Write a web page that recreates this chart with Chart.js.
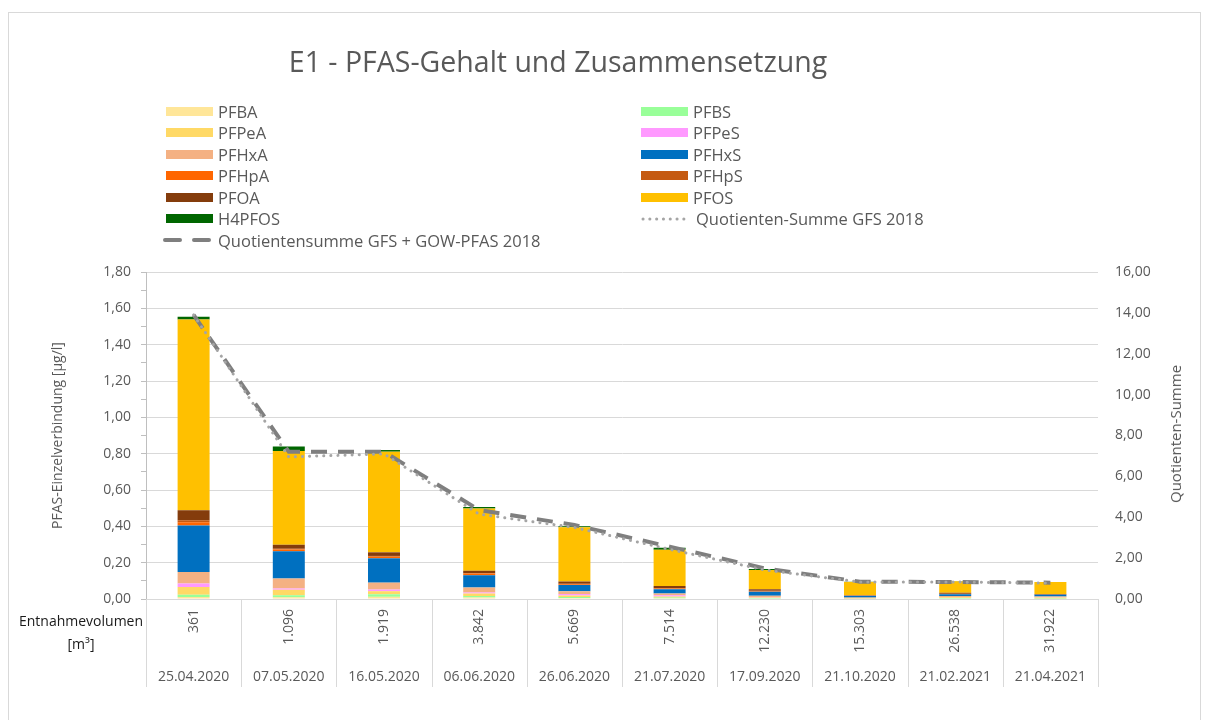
<!DOCTYPE html>
<html>
<head>
<meta charset="utf-8">
<script src="https://cdn.jsdelivr.net/npm/chart.js@4"></script>
<style>
  body { margin: 0; background: #fff; font-family: 'Open Sans', sans-serif; }
  #wrap { position: relative; width: 1212px; height: 720px; overflow: hidden; }
  #frame { position: absolute; left: 8px; top: 12px; width: 1191px; height: 720px; border: 1px solid #d9d9d9; }
  #title { position: absolute; left: 558px; top: 42px; transform: translateX(-50%); font-size: 28.5px; color: #595959; white-space: nowrap; }
  #legend { position: absolute; left: 0; top: 0; }
  .item { position: absolute; height: 20px; display: flex; align-items: center; font-size: 16.5px; color: #595959; white-space: nowrap; }
  .item .sw { width: 47px; height: 9px; margin-right: 5px; }
  .item svg { margin-right: 3px; }
  #rtitle { position: absolute; left: 1175px; top: 434px; transform: translate(-50%, -50%) rotate(-90deg); font-size: 15px; color: #595959; white-space: nowrap; }
  #vol { position: absolute; left: 81px; top: 609px; transform: translateX(-50%); font-size: 14px; line-height: 23px; color: #1a1a1a; text-align: center; white-space: nowrap; }
  canvas { position: absolute; left: 0; top: 0; }
</style>
</head>
<body>
<div id="wrap">
  <div id="frame"></div>
  <canvas id="chart" width="1212" height="720"></canvas>
  <div id="title">E1 - PFAS-Gehalt und Zusammensetzung</div>
  <div id="legend"></div>
  <div id="rtitle">Quotienten-Summe</div>
  <div id="vol">Entnahmevolumen<br>[m³]</div>
</div>
<script>
// categories (two-level x axis)
const volumes = ['361', '1.096', '1.919', '3.842', '5.669', '7.514', '12.230', '15.303', '26.538', '31.922'];
const dates = ['25.04.2020', '07.05.2020', '16.05.2020', '06.06.2020', '26.06.2020', '21.07.2020', '17.09.2020', '21.10.2020', '21.02.2021', '21.04.2021'];

// single compounds [µg/l], stacked bottom to top
const pfba   = [0.011, 0.010, 0.012, 0.008, 0.005, 0.004, 0.003, 0.001, 0.003, 0.002];
const pfbs   = [0.013, 0.011, 0.014, 0.009, 0.006, 0.004, 0.002, 0.001, 0.002, 0.002];
const pfpea  = [0.042, 0.030, 0.017, 0.013, 0.008, 0.006, 0.003, 0.002, 0.004, 0.004];
const pfpes  = [0.020, 0.007, 0.009, 0.006, 0.008, 0.006, 0.003, 0.001, 0.002, 0.002];
const pfhxa  = [0.062, 0.055, 0.038, 0.027, 0.015, 0.010, 0.007, 0.003, 0.005, 0.004];
const pfhxs  = [0.257, 0.150, 0.134, 0.068, 0.035, 0.024, 0.022, 0.009, 0.010, 0.009];
const pfhpa  = [0.018, 0.010, 0.009, 0.009, 0.004, 0.004, 0.003, 0.001, 0.002, 0.001];
const pfhps  = [0.010, 0.003, 0.004, 0.003, 0.003, 0.002, 0.002, 0.001, 0.001, 0.001];
const pfoa   = [0.055, 0.022, 0.020, 0.012, 0.012, 0.011, 0.009, 0.002, 0.005, 0.002];
const pfos   = [1.050, 0.517, 0.554, 0.343, 0.299, 0.200, 0.105, 0.073, 0.064, 0.066];
const h4pfos = [0.015, 0.024, 0.009, 0.009, 0.005, 0.011, 0.006, 0.001, 0.001, 0.001];

// quotient sums (right axis)
const qsGfs    = [13.9, 6.95, 7.1, 4.15, 3.5, 2.43, 1.42, 0.83, 0.83, 0.78];
const qsGfsGow = [13.9, 7.2, 7.2, 4.35, 3.62, 2.56, 1.5, 0.85, 0.83, 0.8];

Chart.defaults.font.family = "'Open Sans', sans-serif";
Chart.defaults.font.size = 14;
Chart.defaults.color = '#595959';

const bar = (label, data, color) => ({ type: 'bar', label, data, backgroundColor: color, borderWidth: 0, yAxisID: 'y' });

const fmt = v => v.toFixed(2).replace('.', ',');

// vertical separators of the category table below the plot
const tableLines = {
    id: 'tableLines',
    afterDraw(chart) {
        const x = chart.scales.x, x2 = chart.scales.x2, ctx = chart.ctx;
        const n = volumes.length, step = x.width / n;
        ctx.save();
        ctx.strokeStyle = '#d9d9d9';
        ctx.lineWidth = 1;
        for (let i = 0; i <= n; i++) {
            const px = Math.round(x.left + i * step) + 0.5;
            ctx.beginPath();
            ctx.moveTo(px, chart.chartArea.bottom);
            ctx.lineTo(px, x2.bottom);
            ctx.stroke();
        }
        ctx.restore();
    }
};

const chart = new Chart(document.getElementById('chart'), {
    data: {
        labels: volumes,
        datasets: [
            bar('PFBA', pfba, '#FFE699'),
            bar('PFBS', pfbs, '#99FF99'),
            bar('PFPeA', pfpea, '#FFD966'),
            bar('PFPeS', pfpes, '#FF99FF'),
            bar('PFHxA', pfhxa, '#F4B183'),
            bar('PFHxS', pfhxs, '#0070C0'),
            bar('PFHpA', pfhpa, '#FF6600'),
            bar('PFHpS', pfhps, '#C55A11'),
            bar('PFOA', pfoa, '#843C0C'),
            bar('PFOS', pfos, '#FFC000'),
            bar('H4PFOS', h4pfos, '#006600'),
            {
                type: 'line', label: 'Quotienten-Summe GFS 2018', data: qsGfs, yAxisID: 'y1',
                borderColor: '#a5a5a5', borderWidth: 3, borderDash: [0.1, 7], borderCapStyle: 'round',
                pointRadius: 0, tension: 0, order: -2
            },
            {
                type: 'line', label: 'Quotientensumme GFS + GOW-PFAS 2018', data: qsGfsGow, yAxisID: 'y1',
                borderColor: '#7f7f7f', borderWidth: 4, borderDash: [16, 11],
                pointRadius: 0, tension: 0, order: -1
            }
        ]
    },
    options: {
        responsive: false,
        animation: false,
        layout: { padding: { left: 50, right: 24, top: 272, bottom: 33 } },
        datasets: { bar: { categoryPercentage: 1, barPercentage: 0.336 } },
        plugins: { legend: { display: false }, tooltip: { enabled: false } },
        scales: {
            x: {
                stacked: true,
                offset: true,
                grid: { display: false, drawTicks: false },
                border: { color: '#d9d9d9' },
                ticks: { minRotation: 90, maxRotation: 90, autoSkip: false, padding: 10 },
                afterFit: s => { s.height = 60; }
            },
            x2: {
                type: 'category',
                labels: dates,
                position: 'bottom',
                offset: true,
                grid: { display: false, drawTicks: false },
                border: { display: false },
                ticks: { autoSkip: false, maxRotation: 0, padding: 10 },
                afterFit: s => { s.height = 28; }
            },
            y: {
                stacked: true,
                min: 0, max: 1.8,
                grid: {
                    color: c => Math.round(c.tick.value * 10) % 2 === 0 ? '#d9d9d9' : 'rgba(0,0,0,0)',
                    tickColor: '#bfbfbf', tickLength: 5
                },
                border: { color: '#bfbfbf' },
                ticks: {
                    stepSize: 0.1, autoSkip: false, padding: 10,
                    callback: v => Math.round(v * 10) % 2 === 0 ? fmt(v) : ''
                },
                title: { display: true, text: 'PFAS-Einzelverbindung [µg/l]', padding: { top: 0, bottom: 6 } },
                afterFit: s => { s.width = 96; }
            },
            y1: {
                position: 'right',
                min: 0, max: 16,
                grid: { drawOnChartArea: false, drawTicks: false },
                border: { display: false },
                ticks: { stepSize: 2, padding: 17, callback: v => fmt(v) },
                afterFit: s => { s.width = 90; }
            }
        }
    },
    plugins: [tableLines]
});

// legend in two columns, built from the chart's datasets
const legend = document.getElementById('legend');
chart.data.datasets.forEach((ds, i) => {
    const col = i % 2, row = Math.floor(i / 2);
    const el = document.createElement('div');
    el.className = 'item';
    el.style.left = (col ? 641 : 163) + 'px';
    el.style.top = (101 + row * 21.5) + 'px';
    let sw;
    if (ds.type === 'bar') {
        sw = '<div class="sw" style="background:' + ds.backgroundColor + (col ? '' : ';margin-left:3px') + '"></div>';
    } else {
        const dash = ds.borderDash[0] < 1 ? '0.1 6.7' : '15 14';
        sw = '<svg width="52" height="10"><line x1="2" y1="5" x2="49" y2="5" stroke="' + ds.borderColor +
             '" stroke-width="' + ds.borderWidth + '" stroke-dasharray="' + dash + '" stroke-linecap="round"/></svg>';
    }
    el.innerHTML = sw + '<span>' + ds.label + '</span>';
    legend.appendChild(el);
});
</script>
</body>
</html>
